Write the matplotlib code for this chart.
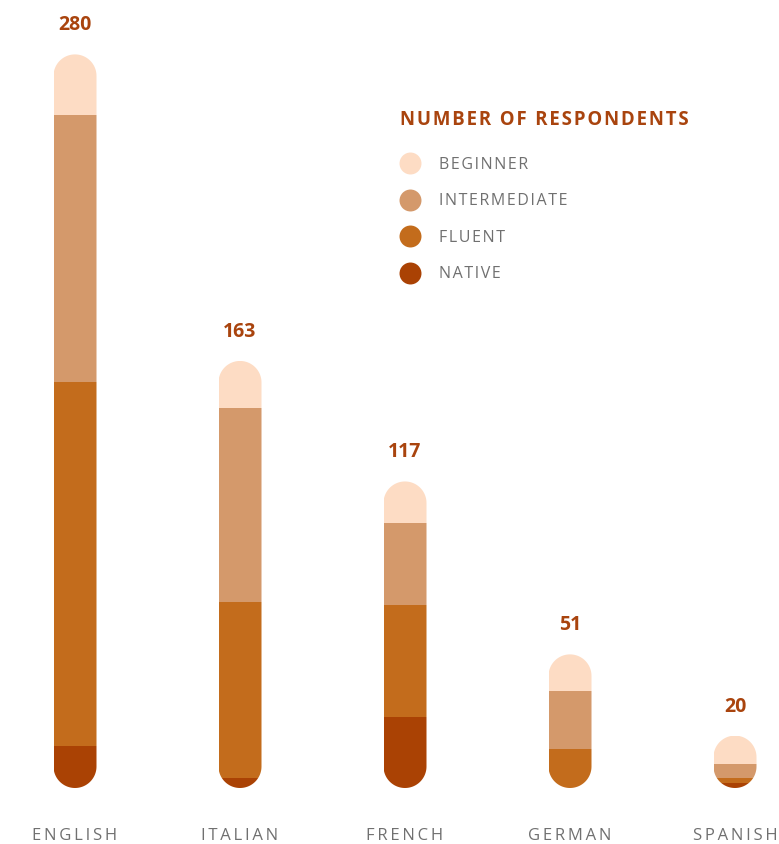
import numpy as np
import matplotlib.pyplot as plt
from matplotlib.patches import Polygon

# Respondents per language, split by proficiency level
languages = ['ENGLISH', 'ITALIAN', 'FRENCH', 'GERMAN', 'SPANISH']
native = [16, 4, 27, 0, 2]
fluent = [139, 67, 43, 15, 2]
intermediate = [102, 74, 31, 22, 5]
beginner = [23, 18, 16, 14, 11]

levels = ['BEGINNER', 'INTERMEDIATE', 'FLUENT', 'NATIVE']
colors = {'NATIVE': '#aa4204', 'FLUENT': '#c36c1c',
          'INTERMEDIATE': '#d4996b', 'BEGINNER': '#fddcc4'}
accent = '#a9440e'
grey = '#707070'

plt.rcParams['font.family'] = ['Open Sans', 'DejaVu Sans']


def spaced(s, sep='\u2009'):
    # wide letter tracking
    return sep.join(s)


W, H = 779, 845
fig = plt.figure(figsize=(W / 100, H / 100), dpi=100)
ax = fig.add_axes([0, 0, 1, 1])

# pixel layout: first bar centre, spacing, baseline, px per respondent
x0, step, base, scale = 75, 165, 789, 2.62
ax.set_xlim(-x0 / step, (W - x0) / step)
ax.set_ylim(-(H - base) / scale, base / scale)
ax.axis('off')

bar_px = 43
bar_w = bar_px / step
rx, ry = bar_w / 2, (bar_px / 2) / scale  # cap radius in x / y data units


def capsule(xc, top):
    t = np.linspace(0, np.pi, 60)
    upper = np.column_stack([xc + rx * np.cos(t), top - ry + ry * np.sin(t)])
    lower = np.column_stack([xc - rx * np.cos(t), ry - ry * np.sin(t)])
    return Polygon(np.vstack([upper, lower]), closed=True,
                   facecolor='none', edgecolor='none', transform=ax.transData)


x = np.arange(len(languages))
stack = [('NATIVE', native), ('FLUENT', fluent),
         ('INTERMEDIATE', intermediate), ('BEGINNER', beginner)]
totals = np.sum([s for _, s in stack], axis=0)

for i in x:
    cap = capsule(i, totals[i])
    ax.add_patch(cap)
    bottom = 0
    for name, vals in stack:
        v = vals[i]
        if v > 0:
            b = ax.bar(i, v, bottom=bottom, width=bar_w, color=colors[name],
                       linewidth=0)
            b[0].set_clip_path(cap)
        bottom += v
    ax.text(i, totals[i] + 30 / scale, str(totals[i]), ha='center', va='center',
            fontsize=14, fontweight='bold', color=accent)
    ax.text(i, -(836 - base) / scale, spaced(languages[i]), ha='center',
            va='center', fontsize=12, color=grey)

# legend
fig.text(400 / W, 1 - 120 / H, spaced('NUMBER OF RESPONDENTS', '\u200a'),
         ha='left', va='center', fontsize=13.4, fontweight='bold', color=accent)
for k, name in enumerate(levels):
    yy = 1 - (164 + 36.5 * k) / H
    ax.scatter([410 / W], [yy], s=250, color=colors[name], transform=ax.transAxes,
               linewidths=0, clip_on=False)
    fig.text(439 / W, yy - 1 / H, spaced(name, '\u200a'), ha='left', va='center',
             fontsize=11.5, color=grey)

fig.savefig('out.png', dpi=100, facecolor='white')
